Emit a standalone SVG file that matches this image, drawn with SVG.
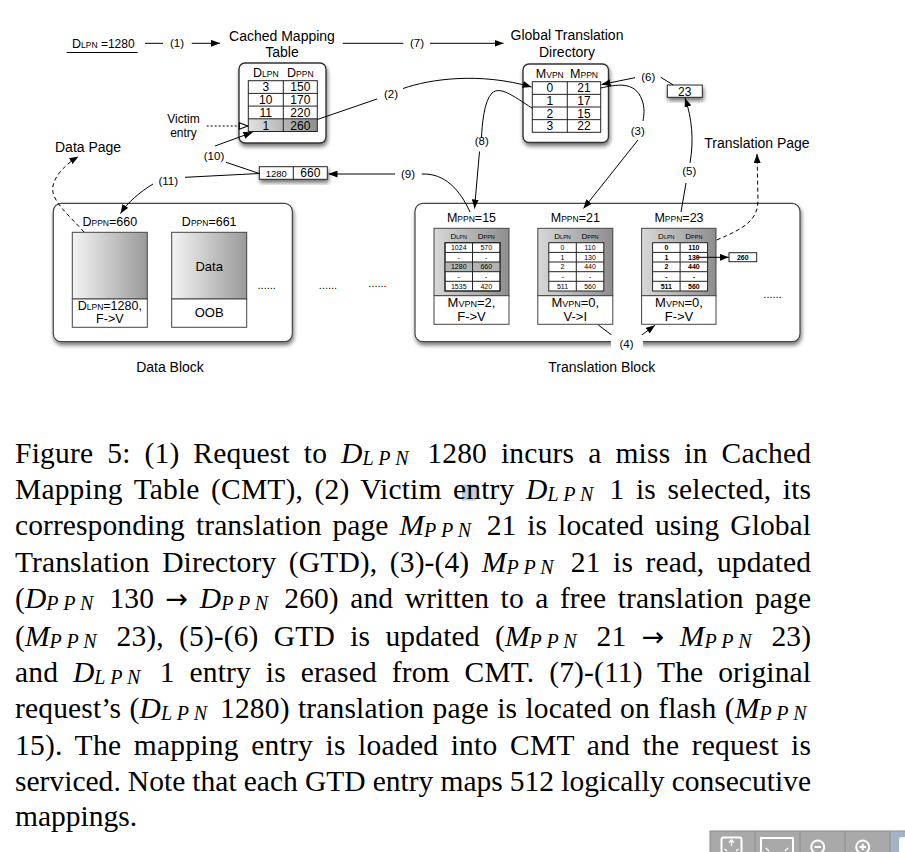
<svg xmlns="http://www.w3.org/2000/svg" width="905" height="852" viewBox="0 0 905 852">
<defs>
<style>
text{font-family:"Liberation Sans",Arial,sans-serif;fill:#000}
.L{font-size:14px}
.n{font-size:11.5px;text-anchor:middle}
.h{font-size:12.5px;text-anchor:middle}
.s{font-size:8.5px}
.v{font-size:12px;text-anchor:middle}
.tv{font-size:7px;text-anchor:middle}
.tb{font-size:7px;text-anchor:middle;font-weight:bold}
.th{font-size:8px;text-anchor:middle}
.ts{font-size:5.5px}
.pb{font-size:13px;text-anchor:middle}
.pbs{font-size:9px}
.c{font-family:"Liberation Serif","Times New Roman",serif;font-size:29.5px}
.i{font-style:italic}
.sub{font-style:italic;font-size:20px;letter-spacing:4.5px}
.ar{font-family:"DejaVu Sans",sans-serif;font-size:27px}
.ln{fill:none;stroke:#000;stroke-width:1}
.bx{fill:#fff;stroke:#333;stroke-width:1.4}
.tl{stroke:#222;stroke-width:1}
.pg{stroke:#444;stroke-width:1}
.blk{fill:#fff;stroke:#444;stroke-width:1.2}
.dot{font-size:11px;text-anchor:middle}
</style>
<filter id="sh" x="-20%" y="-20%" width="150%" height="160%">
<feGaussianBlur in="SourceAlpha" stdDeviation="2"/>
<feOffset dx="1" dy="3" result="o"/>
<feComponentTransfer><feFuncA type="linear" slope="0.55"/></feComponentTransfer>
<feMerge><feMergeNode/><feMergeNode in="SourceGraphic"/></feMerge>
</filter>
<linearGradient id="gPage" x1="0" y1="0" x2="1" y2="0"><stop offset="0" stop-color="#f4f4f4"/><stop offset="1" stop-color="#9a9a9a"/></linearGradient>
<linearGradient id="gTP" x1="0" y1="0" x2="1" y2="0"><stop offset="0" stop-color="#d8d8d8"/><stop offset="1" stop-color="#8e8e8e"/></linearGradient>
<linearGradient id="gRow" x1="0" y1="0" x2="1" y2="0"><stop offset="0" stop-color="#e2e2e2"/><stop offset="1" stop-color="#8e8e8e"/></linearGradient>
<marker id="ah" viewBox="0 0 10 10" refX="10" refY="5" markerWidth="9" markerHeight="7" markerUnits="userSpaceOnUse" orient="auto" preserveAspectRatio="none"><path d="M0,0 L10,5 L0,10 z" fill="#000"/></marker>
<marker id="ao" viewBox="0 0 10 10" refX="10" refY="5" markerWidth="10" markerHeight="8" markerUnits="userSpaceOnUse" orient="auto" preserveAspectRatio="none"><path d="M1,1 L9.5,5 L1,9 z" fill="#fff" stroke="#000" stroke-width="1.2"/></marker>
</defs>
<rect width="905" height="852" fill="#fff"/>

<g id="request">
<text x="72" y="47.5" style="font-size:12.5px">D<tspan class="s">LPN</tspan><tspan style="font-size:12px"> =1280</tspan></text>
<line x1="66.7" y1="52.5" x2="137.7" y2="52.5" stroke="#000" stroke-width="1"/>
</g>

<g id="cmt">
<text class="L" x="282" y="40.7" text-anchor="middle">Cached Mapping</text>
<text class="L" x="282" y="56.7" text-anchor="middle">Table</text>
<rect class="bx" x="239" y="63" width="87" height="80" rx="6" filter="url(#sh)"/>
<text class="h" x="265.8" y="77.3">D<tspan class="s">LPN</tspan></text>
<text class="h" x="300.3" y="77.3">D<tspan class="s">PPN</tspan></text>
<rect x="248.3" y="118.8" width="69" height="12.7" fill="url(#gRow)"/>
<rect x="248.3" y="80.7" width="69" height="50.8" fill="none" stroke="#222"/>
<line class="tl" x1="248.3" y1="93.4" x2="317.3" y2="93.4"/>
<line class="tl" x1="248.3" y1="106.1" x2="317.3" y2="106.1"/>
<line class="tl" x1="248.3" y1="118.8" x2="317.3" y2="118.8"/>
<line class="tl" x1="283.3" y1="80.7" x2="283.3" y2="131.5"/>
<text class="v" x="265.8" y="91.4">3</text><text class="v" x="300.3" y="91.4">150</text>
<text class="v" x="265.8" y="104.1">10</text><text class="v" x="300.3" y="104.1">170</text>
<text class="v" x="265.8" y="116.8">11</text><text class="v" x="300.3" y="116.8">220</text>
<text class="v" x="265.8" y="129.5">1</text><text class="v" x="300.3" y="129.5">260</text>
</g>

<g id="victim">
<text x="183.5" y="123" style="font-size:12px" text-anchor="middle">Victim</text>
<text x="183.5" y="136.5" style="font-size:12px" text-anchor="middle">entry</text>
</g>

<g id="gtd">
<text class="L" x="567" y="40" text-anchor="middle">Global Translation</text>
<text class="L" x="567" y="56.7" text-anchor="middle">Directory</text>
<rect class="bx" x="523" y="64" width="85.5" height="78.5" rx="6" filter="url(#sh)"/>
<text class="h" x="549.8" y="78.3">M<tspan class="s">VPN</tspan></text>
<text class="h" x="584" y="78.3">M<tspan class="s">PPN</tspan></text>
<rect x="532.3" y="81.7" width="68.4" height="50.6" fill="none" stroke="#222"/>
<line class="tl" x1="532.3" y1="94.35" x2="600.7" y2="94.35"/>
<line class="tl" x1="532.3" y1="107" x2="600.7" y2="107"/>
<line class="tl" x1="532.3" y1="119.65" x2="600.7" y2="119.65"/>
<line class="tl" x1="567.3" y1="81.7" x2="567.3" y2="132.3"/>
<text class="v" x="549.8" y="92.4">0</text><text class="v" x="584" y="92.4">21</text>
<text class="v" x="549.8" y="105">1</text><text class="v" x="584" y="105">17</text>
<text class="v" x="549.8" y="117.7">2</text><text class="v" x="584" y="117.7">15</text>
<text class="v" x="549.8" y="130.3">3</text><text class="v" x="584" y="130.3">22</text>
</g>

<g id="box23">
<rect x="667.3" y="85" width="35" height="12.3" fill="#fff" stroke="#222" filter="url(#sh)"/>
<text class="v" x="684.8" y="95.5">23</text>
</g>

<g id="entry1280">
<rect x="259.3" y="166.7" width="68" height="12.6" fill="#fff" stroke="#222" filter="url(#sh)"/>
<line class="tl" x1="293.3" y1="166.7" x2="293.3" y2="179.3"/>
<text x="276.3" y="176.8" style="font-size:9.5px" text-anchor="middle">1280</text>
<text class="v" x="310.3" y="177.3">660</text>
</g>

<g id="labels">
<text class="L" x="55" y="152.3">Data Page</text>
<text class="L" x="757" y="147.7" text-anchor="middle">Translation Page</text>
</g>

<g id="datablock">
<rect class="blk" x="53.3" y="203.3" width="239" height="138.4" rx="8" filter="url(#sh)"/>
<text class="h" x="109.8" y="225.7">D<tspan class="s">PPN</tspan>=660</text>
<rect x="72.3" y="232.3" width="75" height="66.7" fill="url(#gPage)" class="pg"/>
<rect x="72.3" y="299" width="75" height="28.3" fill="#fff" class="pg"/>
<text class="h" x="109.8" y="310">D<tspan class="s">LPN</tspan>=1280,</text>
<text class="h" x="109.8" y="323.3">F-&gt;V</text>
<text class="h" x="209.2" y="225.7">D<tspan class="s">PPN</tspan>=661</text>
<rect x="171.7" y="232.3" width="75" height="66.7" fill="url(#gPage)" class="pg"/>
<rect x="171.7" y="299" width="75" height="28.3" fill="#fff" class="pg"/>
<text class="pb" x="209.2" y="271">Data</text>
<text class="pb" x="209.2" y="316.7">OOB</text>
<text class="dot" x="266.7" y="288.5">......</text>
<text class="L" x="170" y="371.7" text-anchor="middle">Data Block</text>
</g>
<text class="dot" x="328" y="288.5">......</text>
<text class="dot" x="377.5" y="286.5">......</text>

<g id="transblock">
<rect class="blk" x="415" y="203.3" width="385" height="138.4" rx="8" filter="url(#sh)"/>
<text class="L" x="601.7" y="371.7" text-anchor="middle">Translation Block</text>
<text class="dot" x="772.5" y="297.5">......</text>
</g>

<g id="tpage15">
<text class="h" x="471.5" y="221.7">M<tspan class="s">PPN</tspan>=15</text>
<rect x="434" y="228.3" width="75" height="67.4" fill="url(#gTP)" class="pg"/>
<rect x="434" y="295.7" width="75" height="28.6" fill="#fff" class="pg"/>
<text class="th" x="458.75" y="239.3">D<tspan class="ts">LPN</tspan></text>
<text class="th" x="486.25" y="239.3">D<tspan class="ts">PPN</tspan></text>
<rect x="445" y="242.7" width="55" height="48.3" fill="#fff" stroke="#222"/>
<rect x="445" y="262" width="55" height="9.7" fill="#b4b4b4"/>
<rect x="445" y="242.7" width="55" height="48.3" fill="none" stroke="#222"/>
<line class="tl" x1="445" y1="252.4" x2="500" y2="252.4"/>
<line class="tl" x1="445" y1="262" x2="500" y2="262"/>
<line class="tl" x1="445" y1="271.7" x2="500" y2="271.7"/>
<line class="tl" x1="445" y1="281.3" x2="500" y2="281.3"/>
<line class="tl" x1="472.5" y1="242.7" x2="472.5" y2="291"/>
<text class="tv" x="458.75" y="249.9">1024</text><text class="tv" x="486.25" y="249.9">570</text>
<text class="tv" x="458.75" y="259.6">-</text><text class="tv" x="486.25" y="259.6">-</text>
<text class="tv" x="458.75" y="269.2">1280</text><text class="tv" x="486.25" y="269.2">660</text>
<text class="tv" x="458.75" y="278.9">-</text><text class="tv" x="486.25" y="278.9">-</text>
<text class="tv" x="458.75" y="288.5">1535</text><text class="tv" x="486.25" y="288.5">420</text>
<text class="pb" x="471.5" y="307.3">M<tspan class="pbs">VPN</tspan>=2,</text>
<text class="pb" x="471.5" y="320.7">F-&gt;V</text>
</g>

<g id="tpage21">
<text class="h" x="575.3" y="221.7">M<tspan class="s">PPN</tspan>=21</text>
<rect x="537.8" y="228.3" width="75" height="67.4" fill="url(#gTP)" class="pg"/>
<rect x="537.8" y="295.7" width="75" height="28.6" fill="#fff" class="pg"/>
<text class="th" x="562.55" y="239.3">D<tspan class="ts">LPN</tspan></text>
<text class="th" x="590.05" y="239.3">D<tspan class="ts">PPN</tspan></text>
<rect x="548.8" y="242.7" width="55" height="48.3" fill="#fff" stroke="#222"/>
<line class="tl" x1="548.8" y1="252.4" x2="603.8" y2="252.4"/>
<line class="tl" x1="548.8" y1="262" x2="603.8" y2="262"/>
<line class="tl" x1="548.8" y1="271.7" x2="603.8" y2="271.7"/>
<line class="tl" x1="548.8" y1="281.3" x2="603.8" y2="281.3"/>
<line class="tl" x1="576.3" y1="242.7" x2="576.3" y2="291"/>
<text class="tv" x="562.55" y="249.9">0</text><text class="tv" x="590.05" y="249.9">110</text>
<text class="tv" x="562.55" y="259.6">1</text><text class="tv" x="590.05" y="259.6">130</text>
<text class="tv" x="562.55" y="269.2">2</text><text class="tv" x="590.05" y="269.2">440</text>
<text class="tv" x="562.55" y="278.9">-</text><text class="tv" x="590.05" y="278.9">-</text>
<text class="tv" x="562.55" y="288.5">511</text><text class="tv" x="590.05" y="288.5">560</text>
<text class="pb" x="575.3" y="307.3">M<tspan class="pbs">VPN</tspan>=0,</text>
<text class="pb" x="575.3" y="320.7">V-&gt;I</text>
</g>

<g id="tpage23">
<text class="h" x="679" y="221.7">M<tspan class="s">PPN</tspan>=23</text>
<rect x="641.6" y="228.3" width="74.4" height="67.4" fill="url(#gTP)" class="pg"/>
<rect x="641.6" y="295.7" width="74.4" height="28.6" fill="#fff" class="pg"/>
<text class="th" x="666.35" y="239.3">D<tspan class="ts">LPN</tspan></text>
<text class="th" x="693.85" y="239.3">D<tspan class="ts">PPN</tspan></text>
<rect x="652.6" y="242.7" width="55" height="48.3" fill="#fff" stroke="#222"/>
<line class="tl" x1="652.6" y1="252.4" x2="707.6" y2="252.4"/>
<line class="tl" x1="652.6" y1="262" x2="707.6" y2="262"/>
<line class="tl" x1="652.6" y1="271.7" x2="707.6" y2="271.7"/>
<line class="tl" x1="652.6" y1="281.3" x2="707.6" y2="281.3"/>
<line class="tl" x1="680.1" y1="242.7" x2="680.1" y2="291"/>
<text class="tb" x="666.35" y="249.9">0</text><text class="tb" x="693.85" y="249.9">110</text>
<text class="tb" x="666.35" y="259.6">1</text><text class="tb" x="693.85" y="259.6">130</text>
<text class="tb" x="666.35" y="269.2">2</text><text class="tb" x="693.85" y="269.2">440</text>
<text class="tb" x="666.35" y="278.9">-</text><text class="tb" x="693.85" y="278.9">-</text>
<text class="tb" x="666.35" y="288.5">511</text><text class="tb" x="693.85" y="288.5">560</text>
<text class="pb" x="679" y="307.3">M<tspan class="pbs">VPN</tspan>=0,</text>
<text class="pb" x="679" y="320.7">F-&gt;V</text>
</g>

<g id="box260">
<rect x="729" y="252.7" width="27.7" height="9" fill="#fff" stroke="#222"/>
<text class="tb" x="742.8" y="259.8">260</text>
</g>

<g id="connectors">
<line class="ln" x1="145" y1="43.3" x2="163" y2="43.3"/>
<line class="ln" x1="191.7" y1="43.3" x2="220" y2="43.3" marker-end="url(#ah)"/>
<line class="ln" x1="342.7" y1="43.3" x2="403.3" y2="43.3"/>
<line class="ln" x1="430" y1="43.3" x2="503.5" y2="43.3" marker-end="url(#ah)"/>
<path class="ln" d="M317.3,119.5 L377,99"/>
<path class="ln" d="M403,88.5 C430,79 480,72 531.5,87" marker-end="url(#ah)"/>
<path class="ln" d="M532.3,108.3 C512,95 500,86 492,93 C484,101 482,125 481.5,138"/>
<path class="ln" d="M479.5,151.5 L474.5,208.5" marker-end="url(#ah)"/>
<path class="ln" d="M600.7,88 C615,85 635,80 642,100 C645,108 644,115 643,121"/>
<path class="ln" d="M638,140 L583.5,208.5" marker-end="url(#ah)"/>
<path class="ln" d="M635,77.7 L601.5,84.5" marker-end="url(#ah)"/>
<path class="ln" d="M660.7,77.3 L673.3,85"/>
<path class="ln" d="M690,163 C694,140 692,118 685,98" marker-end="url(#ah)"/>
<path class="ln" d="M686,183 L681,212"/>
<path class="ln" d="M716.7,240 C745,228 758,220 758,200 L757,154" stroke-dasharray="4,3" marker-end="url(#ah)"/>
<path class="ln" d="M84,232 C68,214 50,200 53,186 C55,175 66,164 78.5,156.5" stroke-dasharray="4,3" marker-end="url(#ah)"/>
<path class="ln" d="M395,174 L328.5,174" marker-end="url(#ah)"/>
<path class="ln" d="M421.7,174 C445,173 460,190 470,212"/>
<path class="ln" d="M226,162.3 L259.3,173.5"/>
<path class="ln" d="M215,146 L252.5,132.3" marker-end="url(#ah)"/>
<path class="ln" d="M185,177.3 L259.3,173.5"/>
<path class="ln" d="M153,184 C140,192 128,202 120.5,213.5" marker-end="url(#ah)"/>
<path class="ln" d="M206.7,126 L248.3,126" stroke-dasharray="2,2" marker-end="url(#ao)"/>
<path class="ln" d="M696.7,257.3 L728.7,257.3" marker-end="url(#ah)"/>
<path class="ln" d="M598.3,325 L611.7,335"/>
<path class="ln" d="M641.7,335 L655,325.3" marker-end="url(#ah)"/>
<rect x="611" y="335" width="32" height="16" fill="#fff"/>
<text class="n" x="177" y="47.3">(1)</text>
<text class="n" x="391" y="97.5">(2)</text>
<text class="n" x="637.7" y="135">(3)</text>
<text class="n" x="626.5" y="348.3">(4)</text>
<text class="n" x="689.3" y="175">(5)</text>
<text class="n" x="648.3" y="80.5">(6)</text>
<text class="n" x="417" y="47.3">(7)</text>
<text class="n" x="481.7" y="145">(8)</text>
<text class="n" x="408" y="177.5">(9)</text>
<text class="n" x="214" y="159.5">(10)</text>
<text class="n" x="168.3" y="184.5">(11)</text>
</g>

<g id="caption">
<rect x="462" y="484.5" width="14" height="16" fill="#7aa6d6" fill-opacity="0.55"/>
<text class="c" x="15" y="463.3" textLength="796" lengthAdjust="spacing" word-spacing="6.3">Figure 5: (1) Request to <tspan class="i">D</tspan><tspan class="sub" dy="2">LPN</tspan><tspan dy="-2"> 1280 incurs a miss in Cached</tspan></text>
<text class="c" x="15" y="499" textLength="796" lengthAdjust="spacing" word-spacing="3.9">Mapping Table (CMT), (2) Victim entry <tspan class="i">D</tspan><tspan class="sub" dy="2">LPN</tspan><tspan dy="-2"> 1 is selected, its</tspan></text>
<text class="c" x="15" y="535" textLength="796" lengthAdjust="spacing" word-spacing="3.5">corresponding translation page <tspan class="i">M</tspan><tspan class="sub" dy="2">PPN</tspan><tspan dy="-2"> 21 is located using Global</tspan></text>
<text class="c" x="15" y="571.7" textLength="796" lengthAdjust="spacing" word-spacing="5.1">Translation Directory (GTD), (3)-(4) <tspan class="i">M</tspan><tspan class="sub" dy="2">PPN</tspan><tspan dy="-2"> 21 is read, updated</tspan></text>
<text class="c" x="15" y="608.3" textLength="796" lengthAdjust="spacing" word-spacing="4">(<tspan class="i">D</tspan><tspan class="sub" dy="2">PPN</tspan><tspan dy="-2"> 130 <tspan class="ar">→</tspan> </tspan><tspan class="i">D</tspan><tspan class="sub" dy="2">PPN</tspan><tspan dy="-2"> 260) and written to a free translation page</tspan></text>
<text class="c" x="15" y="645.5" textLength="796" lengthAdjust="spacing" word-spacing="7.9">(<tspan class="i">M</tspan><tspan class="sub" dy="2">PPN</tspan><tspan dy="-2"> 23), (5)-(6) GTD is updated (</tspan><tspan class="i">M</tspan><tspan class="sub" dy="2">PPN</tspan><tspan dy="-2"> 21 <tspan class="ar">→</tspan> </tspan><tspan class="i">M</tspan><tspan class="sub" dy="2">PPN</tspan><tspan dy="-2"> 23)</tspan></text>
<text class="c" x="15" y="682" textLength="796" lengthAdjust="spacing" word-spacing="7.3">and <tspan class="i">D</tspan><tspan class="sub" dy="2">LPN</tspan><tspan dy="-2"> 1 entry is erased from CMT. (7)-(11) The original</tspan></text>
<text class="c" x="15" y="718.3" textLength="796" lengthAdjust="spacing" word-spacing="0.8">request’s (<tspan class="i">D</tspan><tspan class="sub" dy="2">LPN</tspan><tspan dy="-2"> 1280) translation page is located on flash (</tspan><tspan class="i">M</tspan><tspan class="sub" dy="2">PPN</tspan></text>
<text class="c" x="15" y="754.7" textLength="796" lengthAdjust="spacing" word-spacing="4.8">15). The mapping entry is loaded into CMT and the request is</text>
<text class="c" x="15" y="790.5" textLength="796" lengthAdjust="spacing" word-spacing="-0.3">serviced. Note that each GTD entry maps 512 logically consecutive</text>
<text class="c" x="15" y="826">mappings.</text>
</g>

<g id="toolbar">
<rect x="710" y="831" width="196" height="22" fill="#a9a9a9" stroke="#8a8a8a"/>
<rect x="890.5" y="831.5" width="15" height="21" fill="#a4b2c8"/>
<line x1="755" y1="831" x2="755" y2="852" stroke="#8a8a8a"/>
<line x1="800" y1="831" x2="800" y2="852" stroke="#8a8a8a"/>
<line x1="845" y1="831" x2="845" y2="852" stroke="#8a8a8a"/>
<line x1="890" y1="831" x2="890" y2="852" stroke="#8a8a8a"/>
<rect x="721.5" y="837.5" width="20" height="18" rx="2" fill="none" stroke="#fff" stroke-width="2"/>
<path d="M731.5,846 L731.5,840 M729,842.5 L731.5,840 L734,842.5 M724.5,849 L727,851 M738.5,849 L736,851" fill="none" stroke="#fff" stroke-width="1.3"/>
<rect x="761" y="838" width="32" height="18" fill="none" stroke="#fff" stroke-width="2"/>
<path d="M766,848 L769,851 M788,848 L785,851" fill="none" stroke="#fff" stroke-width="1.3"/>
<circle cx="817.7" cy="847" r="6.5" fill="none" stroke="#fff" stroke-width="2"/>
<line x1="814.5" y1="847" x2="821" y2="847" stroke="#fff" stroke-width="2"/>
<circle cx="862.7" cy="847" r="6.5" fill="none" stroke="#fff" stroke-width="2"/>
<line x1="859.5" y1="847" x2="866" y2="847" stroke="#fff" stroke-width="2"/>
<line x1="862.7" y1="843.8" x2="862.7" y2="850.2" stroke="#fff" stroke-width="2"/>
<rect x="899" y="837" width="8" height="16" rx="3" fill="#fff"/>
</g>
</svg>
